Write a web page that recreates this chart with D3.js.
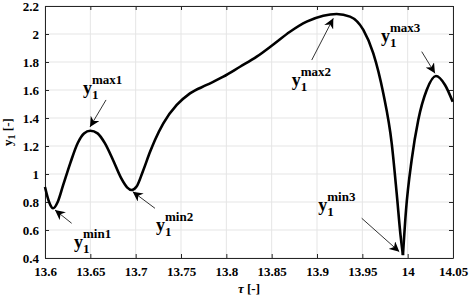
<!DOCTYPE html>
<html>
<head>
<meta charset="utf-8">
<script src="https://cdn.jsdelivr.net/npm/d3@7"></script>
<style>
  body { margin: 0; background: #fff; }
  svg text { font-family: "Liberation Serif", "Times New Roman", serif; font-weight: bold; fill: #000; }
</style>
</head>
<body>
<svg id="chart" width="469" height="300"></svg>
<script>
// curve y1(tau)
const tau = [13.6, 13.6045, 13.609, 13.614, 13.62, 13.628, 13.636, 13.643, 13.65, 13.658,
  13.666, 13.675, 13.684, 13.6905, 13.6956, 13.701, 13.708, 13.716, 13.7213, 13.7305,
  13.7453, 13.7599, 13.7783, 13.7967, 13.8151, 13.8335, 13.8518, 13.8702, 13.8886, 13.9069,
  13.9217, 13.9364, 13.9511, 13.9621, 13.9731, 13.9824, 13.9879, 13.9923, 13.9948, 13.9982,
  14.0044, 14.0117, 14.021, 14.0312, 14.0412, 14.0497];
const y1 = [0.907, 0.8, 0.755, 0.8, 0.92, 1.08, 1.22, 1.29, 1.309, 1.29,
  1.22, 1.1, 0.97, 0.905, 0.886, 0.91, 1.02, 1.16, 1.243, 1.362,
  1.493, 1.576, 1.636, 1.695, 1.766, 1.838, 1.925, 2.016, 2.088, 2.131,
  2.143, 2.124, 2.029, 1.862, 1.576, 1.219, 0.862, 0.552, 0.421, 0.743,
  1.1, 1.386, 1.6, 1.7, 1.636, 1.516];
const cuspIndex = 38;

const xTicks = [13.6, 13.65, 13.7, 13.75, 13.8, 13.85, 13.9, 13.95, 14, 14.05];
const yTicks = [0.4, 0.6, 0.8, 1, 1.2, 1.4, 1.6, 1.8, 2, 2.2];

// annotations: superscript, label anchor, arrow tail, arrow tip (data units)
const annSup = ["max1", "min1", "min2", "max2", "max3", "min3"];
const annLabel = [[13.6419, 1.571], [13.632, 0.475], [13.7224, 0.593], [13.8721, 1.629], [13.9706, 1.943], [13.9014, 0.736]];
const annTail = [[13.6673, 1.529], [13.6294, 0.648], [13.7213, 0.755], [13.8942, 1.814], [14.0155, 1.874], [13.9493, 0.684]];
const annTip = [[13.6496, 1.336], [13.611, 0.743], [13.6967, 0.874], [13.918, 2.112], [14.0301, 1.719], [13.9908, 0.445]];

const W = 469, H = 300;
const margin = { top: 6, right: 16, bottom: 42, left: 45 };
const svg = d3.select("#chart");

const x = d3.scaleLinear().domain([13.6, 14.05]).range([margin.left, W - margin.right]);
const y = d3.scaleLinear().domain([0.4, 2.2]).range([H - margin.bottom, margin.top]);

// grid
svg.append("g").selectAll("line").data(xTicks).join("line")
  .attr("x1", d => x(d)).attr("x2", d => x(d))
  .attr("y1", y(0.4)).attr("y2", y(2.2))
  .attr("stroke", "#e5e5e5").attr("stroke-width", 1);
svg.append("g").selectAll("line").data(yTicks).join("line")
  .attr("y1", d => y(d)).attr("y2", d => y(d))
  .attr("x1", x(13.6)).attr("x2", x(14.05))
  .attr("stroke", "#e5e5e5").attr("stroke-width", 1);

// axes with inward ticks
svg.append("g").attr("transform", `translate(0,${y(0.4)})`)
  .call(d3.axisBottom(x).tickValues(xTicks).tickSizeInner(-4).tickSizeOuter(0).tickPadding(9).tickFormat(d3.format("")));
svg.append("g").attr("transform", `translate(${x(13.6)},0)`)
  .call(d3.axisLeft(y).tickValues(yTicks).tickSizeInner(-4).tickSizeOuter(0).tickPadding(6).tickFormat(d3.format("")));
svg.append("g").attr("transform", `translate(0,${y(2.2)})`)
  .call(d3.axisTop(x).tickValues(xTicks).tickSizeInner(-4).tickSizeOuter(0).tickFormat(""));
svg.append("g").attr("transform", `translate(${x(14.05)},0)`)
  .call(d3.axisRight(y).tickValues(yTicks).tickSizeInner(-4).tickSizeOuter(0).tickFormat(""));
svg.selectAll("g").attr("font-family", null);
svg.selectAll(".domain, .tick line").attr("stroke", "#262626");
svg.selectAll(".tick text").attr("font-size", 13).attr("fill", "#262626");

// axis titles
svg.append("text").attr("x", (x(13.6) + x(14.05)) / 2).attr("y", 293)
  .attr("text-anchor", "middle").attr("font-size", 13)
  .call(t => {
    t.append("tspan").attr("font-style", "italic").text("τ");
    t.append("tspan").text(" [-]");
  });
svg.append("text").attr("transform", `translate(12,${(y(0.4) + y(2.2)) / 2}) rotate(-90)`)
  .attr("text-anchor", "middle").attr("font-size", 13)
  .call(t => {
    t.append("tspan").text("y");
    t.append("tspan").attr("font-size", 10).attr("dy", 3).text("1");
    t.append("tspan").attr("dy", -3).text(" [-]");
  });

// curve, split at the cusp so it stays sharp
const line = d3.line().x(d => x(d[0])).y(d => y(d[1])).curve(d3.curveMonotoneX);
const pts = tau.map((t, i) => [t, y1[i]]);
[pts.slice(0, cuspIndex + 1), pts.slice(cuspIndex)].forEach(seg => {
  svg.append("path").attr("d", line(seg))
    .attr("fill", "none").attr("stroke", "#000").attr("stroke-width", 2.6)
    .attr("stroke-linejoin", "round").attr("stroke-linecap", "butt");
});

// arrows
svg.append("defs").append("marker")
  .attr("id", "head").attr("viewBox", "0 0 10 10").attr("refX", 10).attr("refY", 5)
  .attr("markerWidth", 10).attr("markerHeight", 10).attr("markerUnits", "userSpaceOnUse")
  .attr("orient", "auto")
  .append("path").attr("d", "M0,0 L10,5 L0,10 L3,5 Z").attr("fill", "#000");

annSup.forEach((sup, i) => {
  svg.append("line")
    .attr("x1", x(annTail[i][0])).attr("y1", y(annTail[i][1]))
    .attr("x2", x(annTip[i][0])).attr("y2", y(annTip[i][1]))
    .attr("stroke", "#000").attr("stroke-width", 0.8).attr("marker-end", "url(#head)");

  const lx = x(annLabel[i][0]), ly = y(annLabel[i][1]);
  const g = svg.append("g");
  const main = g.append("text").attr("x", lx).attr("y", ly).attr("font-size", 18).text("y");
  const w = main.node().getComputedTextLength();
  g.append("text").attr("x", lx + w).attr("y", ly + 5).attr("font-size", 13).text("1");
  g.append("text").attr("x", lx + w).attr("y", ly - 10).attr("font-size", 13).text(sup);
});
</script>
</body>
</html>
